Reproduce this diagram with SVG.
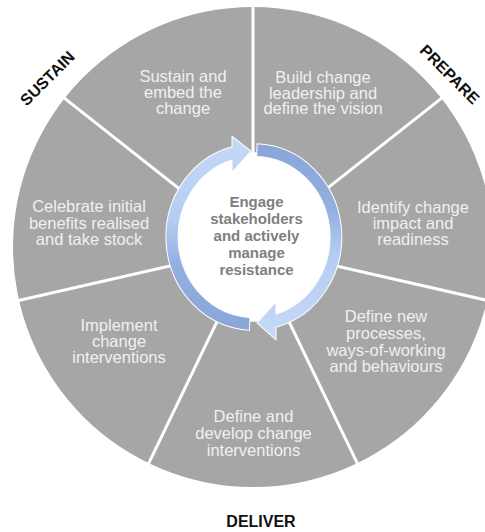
<svg xmlns="http://www.w3.org/2000/svg" width="485" height="532" viewBox="0 0 485 532">
<defs>
<style>
.seg{font-family:"Liberation Sans",Arial,sans-serif;font-size:16.5px;fill:#f0f0f0;text-anchor:middle}
.ctr{font-family:"Liberation Sans",Arial,sans-serif;font-size:15px;font-weight:bold;fill:#7f7f7f;text-anchor:middle}
.lbl{font-family:"Liberation Sans",Arial,sans-serif;font-size:16px;font-weight:bold;fill:#111;text-anchor:middle}
.div{stroke:#fff;stroke-width:3;fill:none}
.arr{stroke:#fff;stroke-width:1}
</style>
<linearGradient id="gL" gradientUnits="userSpaceOnUse" x1="0" y1="90" x2="0" y2="-90">
<stop offset="0" stop-color="#8aa6d9"/>
<stop offset="0.35" stop-color="#93afe0"/>
<stop offset="0.6" stop-color="#b6cdf3"/>
<stop offset="1" stop-color="#c4d8f7"/>
</linearGradient>
<linearGradient id="gR" gradientUnits="userSpaceOnUse" x1="0" y1="-90" x2="0" y2="90">
<stop offset="0" stop-color="#8aa6d9"/>
<stop offset="0.35" stop-color="#93afe0"/>
<stop offset="0.6" stop-color="#b6cdf3"/>
<stop offset="1" stop-color="#c4d8f7"/>
</linearGradient>
</defs>
<rect width="485" height="532" fill="#fff"/>
<g id="wheel">
<circle cx="253" cy="247" r="240" fill="#a6a6a6"/>
</g>
<g id="connectors">
<line class="div" x1="253" y1="247" x2="253" y2="5"/>
<line class="div" x1="253" y1="247" x2="442.6" y2="97.4"/>
<line class="div" x1="253" y1="247" x2="488.5" y2="300.7"/>
<line class="div" x1="253" y1="247" x2="357.7" y2="464.2"/>
<line class="div" x1="253" y1="247" x2="148.3" y2="464.2"/>
<line class="div" x1="253" y1="247" x2="17.5" y2="300.7"/>
<line class="div" x1="253" y1="247" x2="63.4" y2="97.4"/>
</g>
<g id="seg-sustain-embed"><text class="seg" x="183" y="82">Sustain and</text><text class="seg" x="183" y="98">embed the</text><text class="seg" x="183" y="114">change</text></g>
<g id="seg-build"><text class="seg" x="323" y="83">Build change</text><text class="seg" x="323" y="98.5">leadership and</text><text class="seg" x="323" y="114">define the vision</text></g>
<g id="seg-identify"><text class="seg" x="413" y="213">Identify change</text><text class="seg" x="413" y="229">impact and</text><text class="seg" x="413" y="245">readiness</text></g>
<g id="seg-define-new"><text class="seg" x="386" y="322">Define new</text><text class="seg" x="386" y="339">processes,</text><text class="seg" x="386" y="356">ways-of-working</text><text class="seg" x="386" y="372">and behaviours</text></g>
<g id="seg-define-develop"><text class="seg" x="253.5" y="422">Define and</text><text class="seg" x="253.5" y="439">develop change</text><text class="seg" x="253.5" y="455.5">interventions</text></g>
<g id="seg-implement"><text class="seg" x="119" y="331">Implement</text><text class="seg" x="119" y="347">change</text><text class="seg" x="119" y="363">interventions</text></g>
<g id="seg-celebrate"><text class="seg" x="89" y="212">Celebrate initial</text><text class="seg" x="89" y="228.5">benefits realised</text><text class="seg" x="89" y="245">and take stock</text></g>
<g id="center">
<g transform="translate(254,237) scale(1,1.06)">
<circle r="80" fill="#fff"/>
<path class="arr" fill="url(#gL)" d="M -4.6 87.9 A 88 88 0 0 1 -22 -85.2 L -22 -95 L -3 -81 L -22 -61 L -22 -72.7 A 76 76 0 0 0 -4 75.9 Z"/>
<path class="arr" fill="url(#gR)" d="M 3.1 -87.9 A 88 88 0 0 1 22 85.2 L 22 97 L 3 81 L 22 61 L 22 72.7 A 76 76 0 0 0 2.7 -76 Z"/>
</g>
<text class="ctr" x="256.5" y="207">Engage</text>
<text class="ctr" x="256.5" y="224">stakeholders</text>
<text class="ctr" x="256.5" y="241">and actively</text>
<text class="ctr" x="256.5" y="258">manage</text>
<text class="ctr" x="256.5" y="275">resistance</text>
</g>
<g id="label-sustain"><text class="lbl" transform="translate(47,78) rotate(-45)" y="6">SUSTAIN</text></g>
<g id="label-prepare"><text class="lbl" transform="translate(450,74) rotate(45)" y="6">PREPARE</text></g>
<g id="label-deliver"><text class="lbl" x="261" y="527">DELIVER</text></g>
</svg>
